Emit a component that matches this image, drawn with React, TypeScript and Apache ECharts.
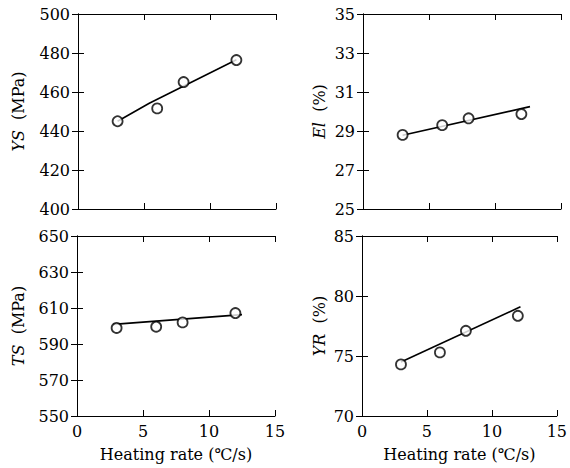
import React, { useEffect, useRef } from "react";
import * as echarts from "echarts";

const heatingRate = [3, 6, 8, 12];
const ysValues = [445.0, 451.6, 465.1, 476.4];
const elValues = [28.8, 29.3, 29.65, 29.87];
const tsValues = [598.9, 599.6, 602.0, 607.2];
const yrValues = [74.3, 75.3, 77.1, 78.35];

const ysFit = [[3, 445.0], [5.4, 454.2], [12, 476.5]];
const elFit = [[3, 28.78], [12.65, 30.25]];
const tsFit = [[2.75, 600.9], [12.5, 606.3]];
const yrFit = [[3, 74.5], [12.2, 79.1]];

const xName = "Heating rate (℃/s)";

const panels = [
  { grid: { left: 78, top: 14, width: 198, height: 195 }, min: 400, max: 500, interval: 20, name: "{i|YS}  (MPa)", nameGap: 52, showX: false, values: ysValues, fit: ysFit },
  { grid: { left: 363, top: 14, width: 198, height: 195 }, min: 25, max: 35, interval: 2, name: "{i|El}  (%)", nameGap: 36, showX: false, values: elValues, fit: elFit },
  { grid: { left: 77, top: 236, width: 198, height: 180 }, min: 550, max: 650, interval: 20, name: "{i|TS}  (MPa)", nameGap: 51, showX: true, values: tsValues, fit: tsFit },
  { grid: { left: 362, top: 236, width: 199, height: 180 }, min: 70, max: 85, interval: 5, name: "{i|YR}  (%)", nameGap: 35, showX: true, values: yrValues, fit: yrFit },
];

const FONT = "DejaVu Serif";
const FS = 16;

export default function App() {
  const ref = useRef<HTMLDivElement>(null);
  useEffect(() => {
    if (!ref.current) return;
    const chart = echarts.init(ref.current, undefined, { renderer: "svg" });
    const axisLine = { show: true, lineStyle: { color: "#000", width: 1 } };
    const axisTick = { show: true, inside: true, length: 6, lineStyle: { color: "#000", width: 1 } };
    const grids: any[] = [];
    const xAxes: any[] = [];
    const yAxes: any[] = [];
    const series: any[] = [];
    panels.forEach((p, i) => {
      grids.push({ ...p.grid, containLabel: false });
      xAxes.push({
        type: "value", gridIndex: i, position: "bottom", min: 0, max: 15, interval: 5,
        axisLine, axisTick, splitLine: { show: false },
        axisLabel: { show: p.showX, color: "#000", fontFamily: FONT, fontSize: FS, margin: 7 },
        name: p.showX ? xName : "", nameLocation: "middle", nameGap: 30,
        nameTextStyle: { color: "#000", fontFamily: FONT, fontSize: FS },
      });
      xAxes.push({
        type: "value", gridIndex: i, position: "top", min: 0, max: 15, interval: 5,
        axisLine, axisTick, splitLine: { show: false }, axisLabel: { show: false },
      });
      yAxes.push({
        type: "value", gridIndex: i, position: "left", min: p.min, max: p.max, interval: p.interval,
        axisLine, axisTick, splitLine: { show: false },
        axisLabel: { color: "#000", fontFamily: FONT, fontSize: FS, margin: 8 },
        name: p.name, nameLocation: "middle", nameGap: p.nameGap,
        nameTextStyle: {
          color: "#000", fontFamily: FONT, fontSize: FS,
          rich: { i: { fontStyle: "italic", fontFamily: FONT, fontSize: FS, color: "#000" } },
        },
      });
      yAxes.push({
        type: "value", gridIndex: i, position: "right", min: p.min, max: p.max, interval: p.interval,
        axisLine, axisTick, splitLine: { show: false }, axisLabel: { show: false },
      });
      series.push({
        type: "line", xAxisIndex: 2 * i, yAxisIndex: 2 * i, data: p.fit,
        showSymbol: false, symbol: "none", lineStyle: { color: "#000", width: 1.6 }, z: 2,
      });
      series.push({
        type: "scatter", xAxisIndex: 2 * i, yAxisIndex: 2 * i,
        data: heatingRate.map((x, k) => [x, p.values[k]]),
        symbol: "circle", symbolSize: 10,
        itemStyle: { color: "#fff", borderColor: "#000", borderWidth: 1.8 }, z: 3,
      });
    });
    chart.setOption({
      animation: false,
      backgroundColor: "#fff",
      textStyle: { fontFamily: FONT },
      grid: grids,
      xAxis: xAxes,
      yAxis: yAxes,
      series,
    });
    return () => chart.dispose();
  }, []);
  return <div ref={ref} style={{ position: "absolute", left: 0, top: 0, width: 570, height: 468 }} />;
}
